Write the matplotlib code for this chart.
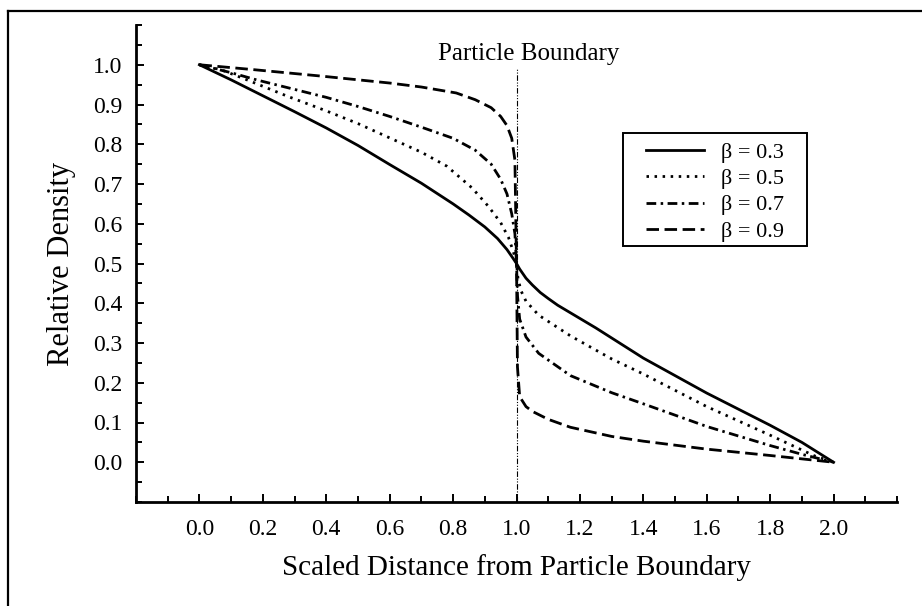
import matplotlib.pyplot as plt
from matplotlib.lines import Line2D
from matplotlib.patches import Rectangle
from matplotlib.ticker import MultipleLocator
import numpy as np

plt.rcParams['font.family'] = ['Liberation Serif', 'DejaVu Serif']

# density profiles read across the particle boundary at x = 1
x_03 = [0.0, 0.1, 0.2, 0.3, 0.4, 0.5, 0.6, 0.7, 0.8, 0.85, 0.9, 0.94, 0.97, 0.99, 1.0,
        1.01, 1.03, 1.05, 1.075, 1.1, 1.13, 1.17, 1.25, 1.4, 1.6, 1.8, 1.9, 2.0]
y_03 = [1.0, 0.962, 0.922, 0.882, 0.841, 0.797, 0.749, 0.702, 0.650, 0.622, 0.592, 0.563, 0.535, 0.512, 0.5,
        0.486, 0.463, 0.446, 0.427, 0.412, 0.395, 0.376, 0.338, 0.262, 0.174, 0.093, 0.050, 0.0]

x_05 = [0.0, 0.07, 0.15, 0.28, 0.4, 0.5, 0.6, 0.7, 0.78, 0.86, 0.91, 0.95, 0.975, 0.99, 1.0,
        1.005, 1.015, 1.03, 1.07, 1.17, 1.3, 1.4, 1.6, 1.8, 1.94, 2.0]
y_05 = [1.0, 0.987, 0.962, 0.920, 0.884, 0.852, 0.816, 0.780, 0.745, 0.690, 0.645, 0.603, 0.565, 0.530, 0.5,
        0.46, 0.43, 0.405, 0.37, 0.318, 0.26, 0.222, 0.14, 0.068, 0.016, 0.0]

x_07 = [0.0, 0.1, 0.18, 0.3, 0.4, 0.5, 0.6, 0.7, 0.8, 0.87, 0.92, 0.95, 0.97, 0.985, 0.995, 1.0,
        1.003, 1.01, 1.03, 1.07, 1.17, 1.3, 1.4, 1.6, 1.8, 1.9, 2.0]
y_07 = [1.0, 0.98, 0.962, 0.938, 0.918, 0.895, 0.870, 0.843, 0.815, 0.785, 0.75, 0.712, 0.675, 0.625, 0.575, 0.5,
        0.42, 0.36, 0.315, 0.274, 0.218, 0.175, 0.147, 0.09, 0.042, 0.02, 0.0]

x_09 = [0.0, 0.18, 0.39, 0.6, 0.7, 0.81, 0.87, 0.92, 0.95, 0.97, 0.985, 0.995, 1.0,
        1.003, 1.01, 1.03, 1.05, 1.1, 1.17, 1.3, 1.4, 1.6, 1.8, 2.0]
y_09 = [1.0, 0.987, 0.971, 0.954, 0.944, 0.929, 0.912, 0.892, 0.87, 0.847, 0.815, 0.76, 0.5,
        0.24, 0.165, 0.14, 0.128, 0.108, 0.088, 0.065, 0.053, 0.033, 0.017, 0.0]

labels = ['β = 0.3', 'β = 0.5', 'β = 0.7', 'β = 0.9']
boundary_x = 1.0

W, H = 922, 606
fig = plt.figure(figsize=(W / 100, H / 100), dpi=100)
ax = fig.add_axes([136 / W, 1 - 502 / H, (897 - 136) / W, (502 - 25) / H])

lw = 2.0
ax.plot(x_03, y_03, color='black', lw=lw, linestyle='-', label=labels[0])
ax.plot(x_05, y_05, color='black', lw=lw, linestyle=(0, (0.9, 2.0)), label=labels[1])
ax.plot(x_07, y_07, color='black', lw=lw, linestyle=(0, (3.5, 1.6, 0.9, 1.6)), label=labels[2])
ax.plot(x_09, y_09, color='black', lw=lw, linestyle=(0, (4.5, 2.0)), label=labels[3])

# boundary marker
ax.plot([boundary_x, boundary_x], [-0.1, 0.99], color='black', lw=0.8,
        linestyle=(0, (5, 1.5, 1, 1.5, 1, 1.5)))
ax.text(boundary_x + 0.038, 1.012, 'Particle Boundary', ha='center', va='baseline', fontsize=18)

ax.set_xlim(-0.2, 2.2)
ax.set_ylim(-0.1, 1.1)
ax.set_xticks(np.arange(0, 2.01, 0.2))
ax.set_yticks(np.arange(0, 1.01, 0.1))
ax.xaxis.set_minor_locator(MultipleLocator(0.1))
ax.yaxis.set_minor_locator(MultipleLocator(0.05))
ax.xaxis.set_major_formatter(plt.FormatStrFormatter('%.1f'))
ax.yaxis.set_major_formatter(plt.FormatStrFormatter('%.1f'))
ax.tick_params(which='both', direction='in', width=1.4, labelsize=17)
ax.tick_params(which='major', length=6)
ax.tick_params(which='minor', length=4)
ax.tick_params(axis='y', pad=10)
ax.tick_params(axis='x', pad=12)

for side in ['top', 'right']:
    ax.spines[side].set_visible(False)
for side in ['left', 'bottom']:
    ax.spines[side].set_linewidth(2.0)

ax.set_xlabel('Scaled Distance from Particle Boundary', fontsize=21, labelpad=10)
ax.set_ylabel('Relative Density', fontsize=22, labelpad=12)

# legend drawn without its own frame, boxed separately
bx0, by0, bx1, by1 = 623, 133, 807, 246
ax.legend(loc='center', bbox_to_anchor=((bx0 + bx1) / 2 / W, 1 - (by0 + by1) / 2 / H - 0.004),
          bbox_transform=fig.transFigure, fontsize=16, frameon=False,
          handlelength=2.6, handletextpad=0.8, labelspacing=0.26, borderpad=0)
fig.add_artist(Rectangle((bx0 / W, 1 - by1 / H), (bx1 - bx0) / W, (by1 - by0) / H,
                         transform=fig.transFigure, fill=False, edgecolor='black', lw=1.4))

# frame lines around the figure
fig.add_artist(Line2D([8 / W, 1.0], [1 - 11 / H, 1 - 11 / H], color='black', lw=1.6))
fig.add_artist(Line2D([8 / W, 8 / W], [0.0, 1 - 11 / H], color='black', lw=1.6))

fig.savefig('out.png', dpi=100)
